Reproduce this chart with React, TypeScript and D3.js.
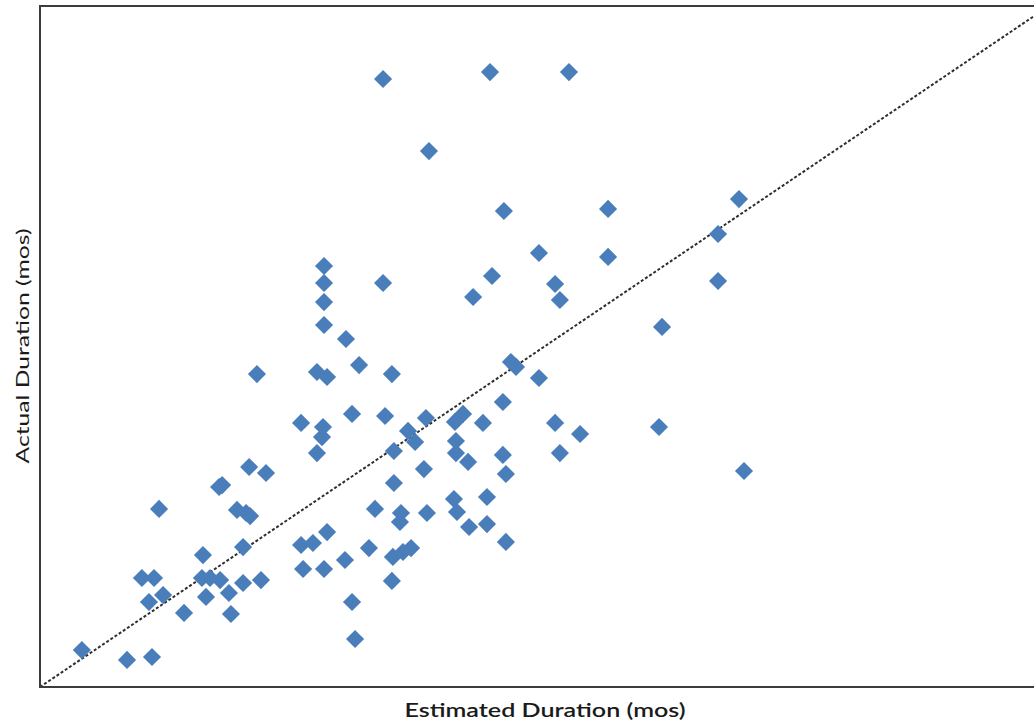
import React from "react";
import * as d3 from "d3";

// Estimated duration (months)
const estimated: number[] = [
  13.6, 17.84, 20.97, 15.42, 18.39, 22.52, 27.71, 26.88, 19.78, 22.52,
  17.92, 20.42, 20.61, 17.17, 26.88, 11.26, 11.26, 11.26, 11.26, 13.6,
  12.13, 24.66, 8.6, 10.98, 11.38, 12.65, 13.95, 18.67, 18.87, 19.78,
  10.35, 12.37, 13.68, 11.22, 11.18, 10.98, 15.3, 14.59, 14.87, 14.03,
  16.77, 16.45, 17.56, 18.35, 20.42, 21.41, 24.54, 16.49, 16.49, 16.97,
  18.35, 18.47, 20.61, 27.91, 15.22, 8.29, 8.96, 7.1, 7.22, 4.72,
  7.81, 8.17, 8.33, 14.03, 17.72, 16.41, 13.28, 15.34, 14.31, 16.53,
  14.27, 17.01, 17.72, 18.47, 11.38, 10.35, 10.82, 8.05, 6.46, 13.04,
  13.99, 14.39, 14.71, 12.09, 10.43, 11.26, 4.04, 4.52, 6.42, 6.74,
  7.14, 7.49, 8.05, 8.76, 4.32, 4.88, 6.58, 5.71, 7.57, 13.95,
  12.37, 12.49, 1.66, 3.45, 4.44,
];

// Actual duration (months)
const actual: number[] = [
  35.71, 36.12, 36.12, 31.48, 27.96, 28.08, 28.66, 26.61, 25.49, 25.26,
  24.14, 23.67, 22.73, 22.91, 23.85, 24.73, 23.73, 22.61, 21.26, 23.73,
  20.44, 21.15, 18.38, 18.5, 18.21, 18.91, 18.38, 19.09, 18.8, 18.15,
  15.51, 16.04, 15.92, 15.27, 14.68, 13.74, 15.8, 15.04, 14.39, 13.86,
  16.04, 15.57, 15.51, 16.74, 15.51, 14.86, 15.27, 14.45, 13.74, 13.22,
  13.63, 12.51, 13.74, 12.69, 12.8, 12.92, 12.57, 11.75, 11.86, 10.46,
  10.4, 10.22, 10.04, 11.98, 11.16, 11.04, 10.46, 10.22, 10.22, 10.28,
  9.69, 9.4, 9.57, 8.52, 9.1, 8.34, 8.46, 8.22, 7.75, 8.16,
  7.64, 7.93, 8.16, 7.46, 6.93, 6.93, 6.4, 6.4, 6.4, 6.4,
  6.28, 5.52, 6.11, 6.28, 4.99, 5.4, 5.29, 4.35, 4.29, 6.23,
  4.99, 2.82, 2.17, 1.59, 1.76,
];

const xDomain: [number, number] = [0, 40];
const yDomain: [number, number] = [0, 40];
const xTitle = "Estimated Duration (mos)";
const yTitle = "Actual Duration (mos)";

export default function App() {
  const W = 1034;
  const H = 723;
  const left = 40;
  const right = 1049;
  const top = 6;
  const bottom = 687;

  const x = d3.scaleLinear().domain(xDomain).range([left, right]);
  const y = d3.scaleLinear().domain(yDomain).range([bottom, top]);

  const diamond = d3.symbol().type(d3.symbolDiamond2).size(210)();
  const line = d3
    .line<[number, number]>()
    .x((d) => x(d[0]))
    .y((d) => y(d[1]));

  const pts = estimated.map((e, i) => [e, actual[i]] as [number, number]);

  return (
    <svg
      width={W}
      height={H}
      style={{ position: "absolute", left: 0, top: 0, background: "#fff" }}
    >
      <defs>
        <clipPath id="plot">
          <rect x={left} y={top} width={right - left} height={bottom - top} />
        </clipPath>
      </defs>
      <rect x={0} y={0} width={W} height={H} fill="#fff" />
      <g clipPath="url(#plot)">
        <path
          d={line([
            [xDomain[0], yDomain[0]],
            [40, 40],
          ]) || ""}
          stroke="#2e2e2e"
          strokeWidth={2}
          strokeDasharray="3,2"
          fill="none"
        />
      </g>
      {pts.map((p, i) => (
        <path
          key={i}
          d={diamond || ""}
          transform={`translate(${x(p[0])},${y(p[1])})`}
          fill="#4a7ebb"
        />
      ))}
      <rect
        x={left}
        y={top}
        width={right - left}
        height={bottom - top}
        fill="none"
        stroke="#3c3c3c"
        strokeWidth={2}
      />
      <text
        x={545}
        y={717}
        textAnchor="middle"
        fontFamily="Lato, 'Open Sans', sans-serif"
        fontSize={19}
        fontWeight={600}
        fill="#1a1a1a"
        textLength={281}
        lengthAdjust="spacingAndGlyphs"
      >
        {xTitle}
      </text>
      <text
        transform={`translate(29,346) rotate(-90)`}
        textAnchor="middle"
        fontFamily="Lato, 'Open Sans', sans-serif"
        fontSize={18}
        fill="#1a1a1a"
        textLength={235}
        lengthAdjust="spacingAndGlyphs"
      >
        {yTitle}
      </text>
    </svg>
  );
}
